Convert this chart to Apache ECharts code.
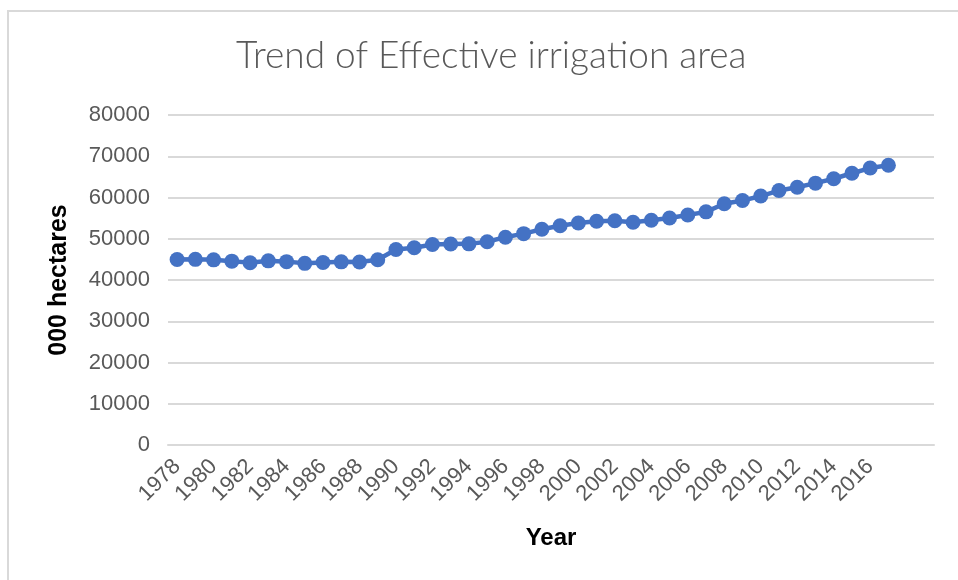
<!DOCTYPE html>
<html>
<head>
<meta charset="utf-8">
<script src="https://cdn.jsdelivr.net/npm/echarts@6/dist/echarts.min.js"></script>
<style>
  html, body { margin: 0; padding: 0; background: #ffffff; }
  #chart { width: 958px; height: 580px; }
</style>
</head>
<body>
<div id="chart"></div>
<script>
// Effective irrigation area, thousand hectares, 1978-2017
const years = [
  '1978','1979','1980','1981','1982','1983','1984','1985','1986','1987',
  '1988','1989','1990','1991','1992','1993','1994','1995','1996','1997',
  '1998','1999','2000','2001','2002','2003','2004','2005','2006','2007',
  '2008','2009','2010','2011','2012','2013','2014','2015','2016','2017'
];
const area = [
  44965, 45003, 44888, 44574, 44177, 44644, 44453, 44036, 44226, 44403,
  44376, 44917, 47403, 47822, 48590, 48728, 48759, 49281, 50381, 51239,
  52296, 53158, 53820, 54249, 54355, 54014, 54478, 55029, 55751, 56518,
  58472, 59261, 60348, 61682, 62491, 63473, 64540, 65873, 67141, 67816
];
// two empty slots keep room at the right end of the category axis
const categories = years.concat(['', '']);
const yTicks = { min: 0, max: 80000, interval: 10000 };

const chart = echarts.init(document.getElementById('chart'), null, { renderer: 'canvas' });
chart.setOption({
  animation: false,
  backgroundColor: '#ffffff',
  graphic: [{
    type: 'rect',
    shape: { x: 8, y: 11, width: 1000, height: 620 },
    style: { fill: 'none', stroke: '#d9d9d9', lineWidth: 2 },
    silent: true
  }],
  title: {
    text: 'Trend of Effective irrigation area',
    left: 231,
    top: 33,
    textStyle: {
      fontFamily: 'Lato',
      fontWeight: 300,
      fontSize: 37,
      color: '#595959'
    }
  },
  grid: { left: 168, right: 24, top: 115, bottom: 135, containLabel: false },
  xAxis: {
    type: 'category',
    data: categories,
    boundaryGap: true,
    name: 'Year',
    nameLocation: 'middle',
    nameGap: 81,
    nameTextStyle: { fontFamily: 'Liberation Sans', fontWeight: 'bold', fontSize: 24, color: '#000000' },
    axisLine: { show: true, lineStyle: { color: '#d9d9d9', width: 2 } },
    axisTick: { show: false },
    axisLabel: {
      interval: 1,
      rotate: 45,
      margin: 18,
      fontFamily: 'Liberation Sans',
      fontSize: 22,
      color: '#595959'
    }
  },
  yAxis: {
    type: 'value',
    min: yTicks.min,
    max: yTicks.max,
    interval: yTicks.interval,
    name: '000 hectares',
    nameLocation: 'middle',
    nameGap: 96,
    nameTextStyle: { fontFamily: 'Liberation Sans', fontWeight: 'bold', fontSize: 25, color: '#000000' },
    axisLine: { show: false },
    axisTick: { show: false },
    axisLabel: {
      margin: 18,
      fontFamily: 'Liberation Sans',
      fontSize: 22,
      color: '#595959',
      formatter: function (v) { return String(v); }
    },
    splitLine: { lineStyle: { color: '#d9d9d9', width: 2 } }
  },
  series: [{
    type: 'line',
    data: area,
    symbol: 'circle',
    symbolSize: 15,
    showSymbol: true,
    showAllSymbol: true,
    lineStyle: { color: '#4472C4', width: 4.5 },
    itemStyle: { color: '#4472C4' }
  }]
});
</script>
</body>
</html>
